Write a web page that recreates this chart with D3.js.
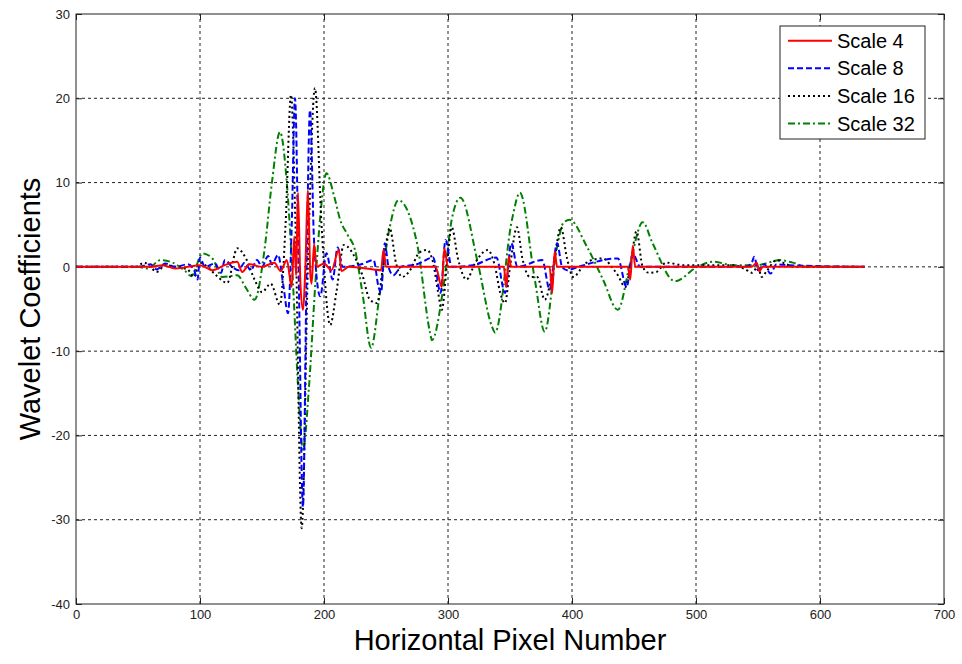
<!DOCTYPE html>
<html>
<head>
<meta charset="utf-8">
<script src="https://cdn.jsdelivr.net/npm/d3@7"></script>
<style>
  body { margin: 0; background: #fff; }
  text { font-family: "Liberation Sans", Arial, sans-serif; }
</style>
</head>
<body>
<svg id="chart" width="962" height="664"></svg>
<script>
// tick values
var xTicks = [0, 100, 200, 300, 400, 500, 600, 700];
var yTicks = [-40, -30, -20, -10, 0, 10, 20, 30];

var seriesNames = ['Scale 4', 'Scale 8', 'Scale 16', 'Scale 32'];

// [pixel, coefficient] points
var scale4 = [[0,0],[60,0],[70,0.2],[80,-0.2],[100,0.2],[110,-0.4],[120,0.2],[130,0.6],[134,-0.6],[140,0.3],[150,0],
  [160,0.5],[165,-0.5],[170,0.8],[174,-2.4],[176,3.6],[177.5,-1],[179,8.8],[181,-2],[183,-5.1],[185,0],[187,9.1],
  [189,-1],[190,-2],[192,2.7],[194,0],[200,0.4],[206,-0.4],[212,2],[214,-0.5],[220,0],[240,-0.3],[246,-0.4],[248,2],
  [250,0],[290,0],[295,-2.4],[297,2.2],[300,0],[345,0],[347,-2.4],[349,1.2],[351,0],[382,0],[384,-3.1],[386,1.8],
  [388,0],[445,0],[447,-1.5],[449,2.5],[451,0],[545,0],[549,0.5],[551,-0.5],[554,0],[636,0]];

var scale8 = [[0,0],[50,0],[60,0.3],[65,-0.3],[72,0.4],[80,0],[90,0.3],[95,-0.3],[98,-1.5],[100,1.1],[104,0],
  [112,0.4],[117,-0.7],[120,0.8],[126,0],[131,-0.4],[136,0.5],[141,-0.4],[146,0.8],[150,0],[155,1.3],[158,0.3],
  [163,1.4],[167,-2],[171,-5.5],[174,5],[176.6,20],[179.5,0],[183,-28.5],[186,0],[188.7,18.6],[192,3],[197,-3.5],
  [202,1.6],[207,-1.5],[211,2.3],[215,0],[230,0.3],[240,0.8],[244,-2.4],[246,-3.1],[249,2.8],[252,0],[256,-1],
  [262,0],[275,0.3],[288,1.1],[294,-3.1],[298,3.2],[303,0],[320,0.2],[339,1.1],[346,-3.1],[351,2.8],[356,0],
  [376,0.8],[382,-2.7],[388,2.8],[392,0],[396,-0.4],[405,0],[437,1],[444,-2.4],[449,1.6],[455,0],[540,0],
  [545,0.5],[547,1.2],[550,-0.4],[555,0.3],[560,-0.8],[565,0.3],[575,0.2],[636,0]];

var scale16 = [[0,0],[48,0],[55,0.5],[60,0],[65,-0.6],[72,0.2],[80,0],[90,-0.3],[95,-1.2],[100,0.5],[106,0],
  [113,-1],[122,-1.9],[130,2.2],[137,1],[144,-1.5],[150,-3],[157,-2],[164.5,-4.5],[169,5],[173.4,20.4],[177,5],
  [182,-31],[187,0],[192.7,21.2],[198,5],[205,-6.9],[210,-3],[216,2.6],[226,0.8],[231,-1],[237,-3.9],[242.7,-4.3],
  [248,0.5],[253,4.6],[258,0.5],[263,-1.2],[269,-0.5],[277,1.7],[283,2],[288,0.5],[292,-3],[295,-5.1],[299,0],
  [303,4.7],[308,1],[315,-1.5],[322,0.5],[332,2],[338,0],[342,-3],[346,-4.3],[350,0],[355.6,4.7],[360,1],
  [366,-1.2],[372,-1.2],[378,-3.9],[385,0],[391,4.7],[396,1],[401,-1.2],[410,0.3],[418,0.9],[425,1],[432,0],
  [437,-1],[443,-2.4],[447,0],[452,4.2],[457,0],[462,-0.7],[468,-0.6],[476,0.5],[490,0.2],[530,0.2],[540,-0.3],
  [545,-0.7],[550,0],[553,-1.2],[557,-0.5],[565,0.8],[570,0.5],[580,0],[636,0]];

var scale32 = [[0,0],[50,0],[58,-0.2],[68,0.8],[78,0.5],[88,-0.5],[93,-1.1],[102,1.6],[110,1.0],[118,-1.2],
  [130,-1],[137,-2.5],[144,-3.9],[152,2],[158,10],[164.5,16],[170,10],[175,-2],[179,-14],[183,-21.7],[188,-14],
  [193,-2],[197,6],[202,11.1],[208,8.5],[213,5.6],[219,3.8],[225,2.0],[231,-3.1],[238,-9.6],[245,-3.1],[253,4.7],
  [260,7.9],[275,2.8],[285.5,-7.8],[287,-8.7],[296,-2.7],[303,5.6],[310,8.2],[324,0.5],[335.5,-7.1],[338,-7.8],
  [351.6,5.6],[358,8.8],[370,-1.5],[378,-7.7],[388,2.4],[393,5.2],[398,5.6],[412,2.4],[425,-1.5],[437,-5.1],
  [447,0.5],[457,5.3],[465,2.8],[483,-1.7],[501,0],[514,0.6],[530,0.2],[549,0.2],[568,0.8],[578,0.5],[590,0],[636,0]];

var allSeries = [scale4, scale8, scale16, scale32];
var colors = ['#ff0000', '#0000ff', '#000000', '#008000'];
var dashes = [null, '6,3', '2,3', '7,3,2,3'];

var svg = d3.select('#chart');

var x = d3.scaleLinear().domain([0, 700]).range([76, 944]);
var y = d3.scaleLinear().domain([-40, 30]).range([604, 14]);

// grid
svg.append('g').selectAll('line')
  .data(xTicks.slice(1, -1))
  .enter().append('line')
  .attr('x1', function(d) { return x(d); }).attr('x2', function(d) { return x(d); })
  .attr('y1', y(-40)).attr('y2', y(30))
  .attr('stroke', '#222').attr('stroke-dasharray', '3,3');

svg.append('g').selectAll('line')
  .data(yTicks.slice(1, -1))
  .enter().append('line')
  .attr('y1', function(d) { return y(d); }).attr('y2', function(d) { return y(d); })
  .attr('x1', x(0)).attr('x2', x(700))
  .attr('stroke', '#222').attr('stroke-dasharray', '3,3');

// axes, ticks inside (plain hyphen for negatives, like the original)
var fmt = function(d) { return String(d); };
var xAxis = d3.axisBottom(x).tickValues(xTicks).tickSize(-6).tickPadding(6).tickFormat(fmt);
var yAxis = d3.axisLeft(y).tickValues(yTicks).tickSize(-6).tickPadding(6).tickFormat(fmt);

svg.append('g').attr('transform', 'translate(0,' + y(-40) + ')').call(xAxis)
  .call(function(g) { g.select('.domain').remove(); });
svg.append('g').attr('transform', 'translate(' + x(0) + ',0)').call(yAxis)
  .call(function(g) { g.select('.domain').remove(); });
svg.append('g').attr('transform', 'translate(0,' + y(30) + ')')
  .call(d3.axisTop(x).tickValues(xTicks).tickSize(-6).tickFormat(''))
  .call(function(g) { g.select('.domain').remove(); });
svg.append('g').attr('transform', 'translate(' + x(700) + ',0)')
  .call(d3.axisRight(y).tickValues(yTicks).tickSize(-6).tickFormat(''))
  .call(function(g) { g.select('.domain').remove(); });

svg.selectAll('.tick text')
  .attr('font-size', 13).attr('fill', '#222')
  .attr('font-family', '"Liberation Sans", Arial, sans-serif');
svg.selectAll('.tick line').attr('stroke', '#222');

// plot lines
var line = d3.line()
  .x(function(d) { return x(d[0]); })
  .y(function(d) { return y(d[1]); })
  .curve(d3.curveMonotoneX);

var order = [3, 2, 1, 0];
order.forEach(function(i) {
  svg.append('path')
    .datum(allSeries[i])
    .attr('d', line)
    .attr('fill', 'none')
    .attr('stroke', colors[i])
    .attr('stroke-width', 2)
    .attr('stroke-dasharray', dashes[i]);
});

// box
svg.append('rect')
  .attr('x', x(0)).attr('y', y(30))
  .attr('width', x(700) - x(0)).attr('height', y(-40) - y(30))
  .attr('fill', 'none').attr('stroke', '#222');

// axis titles
svg.append('text')
  .attr('x', (x(0) + x(700)) / 2).attr('y', 650)
  .attr('text-anchor', 'middle').attr('font-size', 29)
  .text('Horizontal Pixel Number');

svg.append('text')
  .attr('transform', 'translate(40,' + (y(30) + y(-40)) / 2 + ') rotate(-90)')
  .attr('text-anchor', 'middle').attr('font-size', 29)
  .text('Wavelet Coefficients');

// legend
var legend = svg.append('g').attr('transform', 'translate(780,26)');
legend.append('rect')
  .attr('width', 145).attr('height', 113)
  .attr('fill', '#fff').attr('stroke', '#222');

var rows = legend.selectAll('g.row')
  .data(seriesNames)
  .enter().append('g')
  .attr('class', 'row')
  .attr('transform', function(d, i) { return 'translate(0,' + (14.7 + i * 27.6) + ')'; });

rows.append('line')
  .attr('x1', 8).attr('x2', 52)
  .attr('stroke', function(d, i) { return colors[i]; })
  .attr('stroke-width', 2)
  .attr('stroke-dasharray', function(d, i) { return dashes[i]; });

rows.append('text')
  .attr('x', 57).attr('y', 7)
  .attr('font-size', 20)
  .text(function(d) { return d; });
</script>
</body>
</html>
